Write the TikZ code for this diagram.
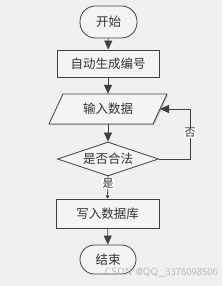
\documentclass[tikz,border=0pt]{standalone}
\usepackage{fontspec}
\newfontfamily\cjk{Noto Sans CJK SC}
\usetikzlibrary{arrows.meta,shapes.geometric,shadows}
\definecolor{bgc}{HTML}{F0F0F0}
\definecolor{linec}{HTML}{404040}
\definecolor{fillc}{HTML}{F4F4F4}
\begin{document}
\begin{tikzpicture}[x=1pt,y=1pt,
  every node/.style={font=\cjk\fontsize{12.5}{15}\selectfont, text=black!80},
  shp/.style={draw=linec, line width=0.8pt, fill=fillc, inner sep=0pt},
  sh/.style={drop shadow={shadow xshift=1.2pt, shadow yshift=-1.2pt, fill=black!40, opacity=0.5}},
  procbox/.style={shp, sh, rectangle},
  conn/.style={draw=linec, line width=0.8pt, -{Triangle[length=9pt,width=8pt]}},
  lbl/.style={fill=white, inner sep=0.5pt, font=\cjk\fontsize{11}{13}\selectfont}
]
\fill[bgc] (0,0) rectangle (222,286);
\useasboundingbox (0,0) rectangle (222,286);
\node[shp, rounded corners=15.5pt, minimum width=57pt, minimum height=32pt] (start) at (108.5,264) {开始};
\node[procbox, minimum width=102pt, minimum height=27pt] (gen) at (108,222.5) {自动生成编号};
% parallelogram
\coordinate (p1) at (63,192);
\coordinate (p2) at (167,192);
\coordinate (p3) at (153,162);
\coordinate (p4) at (49,162);
\fill[black!40, opacity=0.5] ([shift={(1.2,-1.2)}]p1) -- ([shift={(1.2,-1.2)}]p2) -- ([shift={(1.2,-1.2)}]p3) -- ([shift={(1.2,-1.2)}]p4) -- cycle;
\filldraw[draw=linec, line width=0.8pt, fill=fillc] (p1) -- (p2) -- (p3) -- (p4) -- cycle;
\node[inner sep=0pt, minimum width=90pt, minimum height=30pt] (inp) at (108,177) {输入数据};
\coordinate (inpE) at (160,177);
\node[shp, diamond, aspect=2.97, minimum width=101pt, minimum height=34pt] (chk) at (108,127) {是否合法};
\node[procbox, minimum width=103pt, minimum height=29pt] (wr) at (107.5,72.5) {写入数据库};
\node[shp, rounded corners=14.5pt, minimum width=56pt, minimum height=29pt] (stop) at (108,26.5) {结束};
\draw[conn] (start) -- (gen);
\draw[conn] (gen) -- (inp.north);
\draw[conn] (inp.south) -- (chk);
\draw[conn] (chk.east) -- (190,127) -- (190,177) -- (inpE);
\node[lbl] (no) at (190,153) {否};
\draw[draw=linec, line width=0.8pt, -{Triangle[length=3pt,width=4pt]}] (chk.south) -- (wr.north);
\node[lbl] (yes) at (108,102) {是};
\draw[conn] (wr) -- (stop);
\node[font=\fontsize{10.5}{12}\selectfont\sffamily, text=black!28, anchor=east, inner sep=0pt] (wm) at (218,13) {CSDN @QQ\_3376098506};
\end{tikzpicture}
\end{document}
